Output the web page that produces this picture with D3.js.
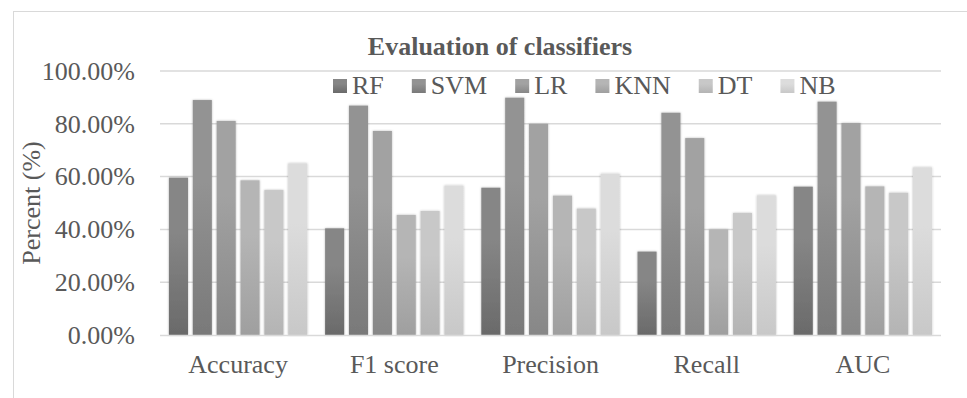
<!DOCTYPE html>
<html>
<head>
<meta charset="utf-8">
<script src="https://cdn.jsdelivr.net/npm/d3@7"></script>
<style>
  html, body { margin: 0; padding: 0; background: #fff; }
  svg { display: block; }
  svg text { font-family: "Liberation Serif", "Times New Roman", serif; }
</style>
</head>
<body>
<svg id="chart" width="967" height="398"></svg>
<script>
const categories = ["Accuracy", "F1 score", "Precision", "Recall", "AUC"];
const seriesNames = ["RF", "SVM", "LR", "KNN", "DT", "NB"];
const RF  = [59.6, 40.4, 55.8, 31.6, 56.2];
const SVM = [89.0, 86.9, 89.9, 84.2, 88.4];
const LR  = [81.1, 77.3, 80.0, 74.6, 80.3];
const KNN = [58.6, 45.5, 52.8, 40.0, 56.3];
const DT  = [54.9, 47.0, 47.9, 46.2, 53.9];
const NB  = [65.0, 56.6, 61.1, 52.9, 63.5];
const yTicks = [0, 20, 40, 60, 80, 100];
const title = "Evaluation of classifiers";
const yLabel = "Percent (%)";

const seriesValues = { RF, SVM, LR, KNN, DT, NB };
const topColors = ["#868686", "#939393", "#a2a2a2", "#b5b5b5", "#c8c8c8", "#dcdcdc"];
const bottomColors = ["#6a6a6a", "#797979", "#878787", "#9f9f9f", "#b4b4b4", "#c8c8c8"];

const FONT = "Liberation Serif, Times New Roman, serif";
const svg = d3.select("#chart");
const W = 967, H = 398;
const plot = { left: 160, right: 941, top: 71, bottom: 335 };
const textColor = "#595959";

const defs = svg.append("defs");
seriesNames.forEach((s, i) => {
  const g = defs.append("linearGradient").attr("id", "g" + i)
    .attr("x1", 0).attr("y1", 0).attr("x2", 0).attr("y2", 1);
  g.append("stop").attr("offset", "0%").attr("stop-color", topColors[i]);
  g.append("stop").attr("offset", "35%").attr("stop-color", topColors[i]);
  g.append("stop").attr("offset", "100%").attr("stop-color", bottomColors[i]);
});
const f = defs.append("filter").attr("id", "sh").attr("x", "-20%").attr("y", "-5%").attr("width", "140%").attr("height", "110%");
f.append("feDropShadow").attr("dx", 0).attr("dy", 0).attr("stdDeviation", 1.1)
  .attr("flood-color", "#000").attr("flood-opacity", 0.28);

// chart area border
svg.append("rect").attr("x", 13.5).attr("y", 11.5).attr("width", W + 20).attr("height", H + 20)
  .attr("fill", "none").attr("stroke", "#d9d9d9").attr("stroke-width", 1);

const x0 = d3.scaleBand().domain(categories).range([plot.left, plot.right])
  .paddingInner(0.114).paddingOuter(0.057);
const x1 = d3.scaleBand().domain(seriesNames).range([0, x0.bandwidth()])
  .paddingInner(0.2).paddingOuter(0);
const y = d3.scaleLinear().domain([0, 100]).range([plot.bottom, plot.top]);

// gridlines
svg.append("g").selectAll("line").data(yTicks.filter(t => t > 0)).join("line")
  .attr("x1", plot.left).attr("x2", plot.right)
  .attr("y1", d => y(d)).attr("y2", d => y(d))
  .attr("stroke", "#d9d9d9").attr("stroke-width", 1.5);

// y axis labels
const yAxis = d3.axisLeft(y).tickValues(yTicks).tickSize(0).tickPadding(25)
  .tickFormat(d => d.toFixed(2) + "%");
const ya = svg.append("g").attr("transform", `translate(${plot.left},0)`).call(yAxis)
  .attr("font-family", FONT);
ya.select(".domain").remove();
ya.selectAll("text").attr("font-size", 26).attr("fill", textColor);

// bars
const groups = svg.append("g").selectAll("g").data(categories).join("g")
  .attr("transform", d => `translate(${x0(d)},0)`);
groups.selectAll("rect")
  .data((c, ci) => seriesNames.map((s, si) => ({ s, si, v: seriesValues[s][ci] })))
  .join("rect")
  .attr("x", d => x1(d.s))
  .attr("width", x1.bandwidth())
  .attr("y", d => y(d.v))
  .attr("height", d => y(0) - y(d.v))
  .attr("fill", d => `url(#g${d.si})`)
  .attr("filter", "url(#sh)");

// x axis line
svg.append("line").attr("x1", plot.left).attr("x2", plot.right)
  .attr("y1", plot.bottom + 0.5).attr("y2", plot.bottom + 0.5)
  .attr("stroke", "#d9d9d9").attr("stroke-width", 1.5);

// x axis labels
const xAxis = d3.axisBottom(x0).tickSize(0).tickPadding(20);
const xa = svg.append("g").attr("transform", `translate(0,${plot.bottom})`).call(xAxis)
  .attr("font-family", FONT);
xa.select(".domain").remove();
xa.selectAll("text").attr("font-size", 26).attr("fill", textColor);

// y label
svg.append("text")
  .attr("transform", `translate(40,${(plot.top + plot.bottom) / 2}) rotate(-90)`)
  .attr("text-anchor", "middle").attr("font-size", 26).attr("fill", textColor)
  .attr("font-family", FONT)
  .text(yLabel);

// title
svg.append("text").attr("x", 500).attr("y", 55).attr("text-anchor", "middle")
  .attr("font-size", 26).attr("font-weight", "bold").attr("fill", textColor)
  .attr("font-family", FONT)
  .text(title);

// legend
const leg = svg.append("g").attr("font-family", FONT);
let lx = 333;
seriesNames.forEach((s, i) => {
  leg.append("rect").attr("x", lx).attr("y", 79).attr("width", 14).attr("height", 14)
    .attr("fill", `url(#g${i})`);
  const t = leg.append("text").attr("x", lx + 19).attr("y", 94)
    .attr("font-size", 26).attr("fill", textColor).text(s);
  lx += 19 + t.node().getComputedTextLength() + 28;
});
</script>
</body>
</html>
